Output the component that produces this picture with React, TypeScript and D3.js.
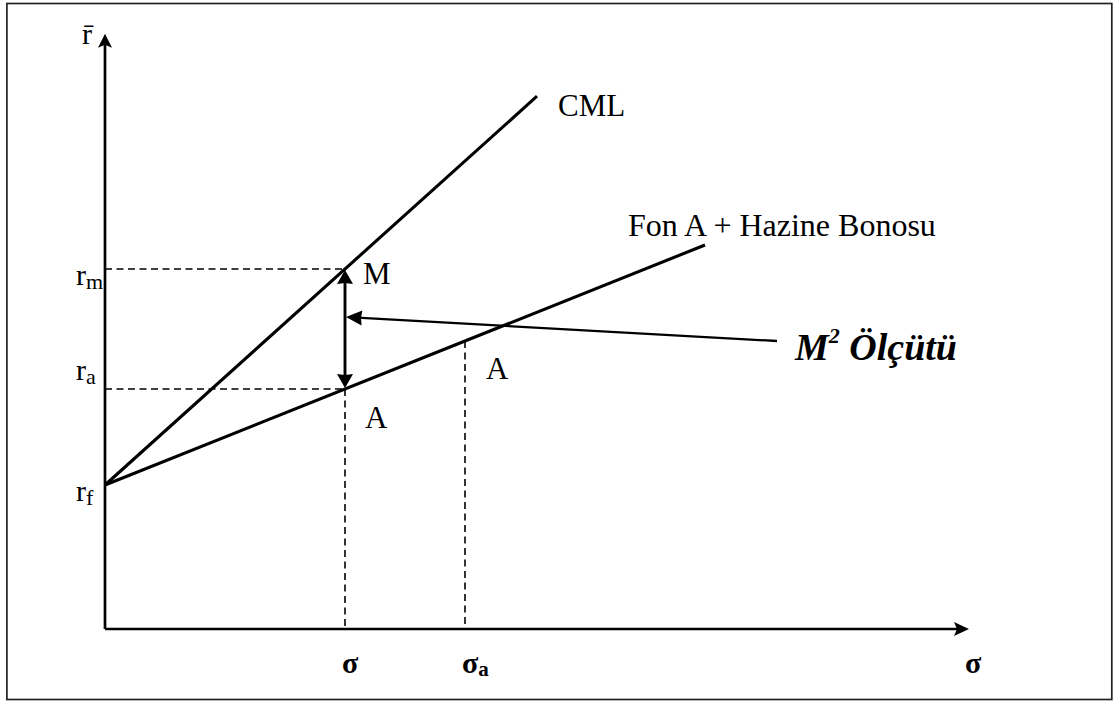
import React from "react";
import * as d3 from "d3";

// ---- data (model units) ----
const rf = 6;
const rA = 10;
const rM = 15;
const sigmaM = 4;
const sigmaA = 6;
const cmlLine = [ { s: 0, r: 6 }, { s: 7.2, r: 22.2 } ];
const fundLine = [ { s: 0, r: 6 }, { s: 10, r: 16 } ];
const m2Arrow = [ { s: 11.2, r: 12 }, { s: 4, r: 13 } ];
const axisMaxSigma = 14.4;
const axisMaxR = 24.8;
const lineLabels = ["CML", "Fon A + Hazine Bonosu"];
const pointLabels = ["M", "A", "A"];
const yTickLabels = [ { base: "r", sub: "m", v: rM }, { base: "r", sub: "a", v: rA }, { base: "r", sub: "f", v: rf } ];
const xTickLabels = [ { base: "σ", sub: "", v: sigmaM }, { base: "σ", sub: "a", v: sigmaA } ];

const W = 1115;
const H = 702;
const x = d3.scaleLinear().domain([0, 4]).range([105, 345]);
const y = d3.scaleLinear().domain([0, 15]).range([629, 269]);

function arrowHead(tx: number, ty: number, fx: number, fy: number, len: number, hw: number, notch = 3) {
  const dx = tx - fx, dy = ty - fy;
  const L = Math.hypot(dx, dy);
  const ux = dx / L, uy = dy / L;
  const px = -uy, py = ux;
  const bx = tx - ux * len, by = ty - uy * len;
  const nx = tx - ux * (len - notch), ny = ty - uy * (len - notch);
  return `M${tx},${ty}L${bx + px * hw},${by + py * hw}L${nx},${ny}L${bx - px * hw},${by - py * hw}Z`;
}

export default function App() {
  const line = d3.line<{ s: number; r: number }>().x(d => x(d.s)).y(d => y(d.r));
  const font = "'Liberation Serif', 'Times New Roman', serif";
  const x0 = x(0), y0 = y(0);
  const xEnd = x(axisMaxSigma), yEnd = y(axisMaxR);
  const mx = x(sigmaM), my = y(rM), ay = y(rA);
  const sax = x(sigmaA), say = y(rf + (fundLine[1].r - rf) / fundLine[1].s * sigmaA);
  const m2s = m2Arrow[0], m2e = m2Arrow[1];
  const dash = "7 4.5";
  return (
    <svg width={W} height={H} style={{ position: "absolute", left: 0, top: 0, background: "#fff" }}>
      <rect x={6.9} y={3.5} width={1104.9} height={696} fill="#fff" stroke="#222" strokeWidth={1.7} />

      {/* dashed guides */}
      <g stroke="#000" strokeWidth={1.6} strokeDasharray={dash} fill="none">
        <line x1={x0} y1={my} x2={mx} y2={my} />
        <line x1={x0} y1={ay} x2={mx} y2={ay} />
        <line x1={mx} y1={ay} x2={mx} y2={y0} />
        <line x1={sax} y1={say} x2={sax} y2={y0} />
      </g>

      {/* axes */}
      <g stroke="#000" strokeWidth={2.7}>
        <line x1={x0} y1={y0} x2={x0} y2={yEnd + 8} />
        <line x1={x0} y1={y0} x2={xEnd - 8} y2={y0} />
      </g>
      <path d={arrowHead(x0, yEnd, x0, y0, 14, 7)} fill="#000" />
      <path d={arrowHead(xEnd, y0, x0, y0, 15, 7)} fill="#000" />

      {/* lines */}
      <path d={line(cmlLine) || ""} stroke="#000" strokeWidth={3.1} fill="none" />
      <path d={line(fundLine) || ""} stroke="#000" strokeWidth={3.1} fill="none" />

      {/* double arrow */}
      <line x1={mx} y1={my + 10} x2={mx} y2={ay - 10} stroke="#000" strokeWidth={2.9} />
      <path d={arrowHead(mx, my + 1, mx, ay, 14, 8, 1)} fill="#000" />
      <path d={arrowHead(mx, ay - 1, mx, my, 14, 8, 1)} fill="#000" />

      {/* M2 arrow */}
      <line x1={x(m2s.s)} y1={y(m2s.r)} x2={x(m2e.s) + 12} y2={y(m2e.r) + 0.7} stroke="#000" strokeWidth={2.3} />
      <path d={arrowHead(x(m2e.s) + 1, y(m2e.r), x(m2s.s), y(m2s.r), 16, 7.5, 1)} fill="#000" />

      {/* texts */}
      <g fontFamily={font} fill="#000">
        <text x={82} y={44} fontSize={30}>r̄</text>
        {yTickLabels.map((t, i) => (
          <text key={i} x={76} y={y(t.v) + (t.v === rA ? -9 : 16)} fontSize={30}>
            {t.base}
            <tspan fontSize={22} dy={4}>{t.sub}</tspan>
          </text>
        ))}
        {xTickLabels.map((t, i) => (
          <text key={i} x={x(t.v) - 3} y={673} fontSize={30} fontWeight="bold">
            {t.base}
            {t.sub ? <tspan fontSize={21} dy={3}>{t.sub}</tspan> : null}
          </text>
        ))}
        <text x={965} y={673} fontSize={30} fontWeight="bold">σ</text>
        <text x={x(cmlLine[1].s) + 21} y={116} fontSize={31}>{lineLabels[0]}</text>
        <text x={628} y={236} fontSize={32}>{lineLabels[1]}</text>
        <text x={mx + 18} y={my + 15} fontSize={31}>{pointLabels[0]}</text>
        <text x={mx + 20} y={ay + 39} fontSize={31}>{pointLabels[1]}</text>
        <text x={sax + 21} y={say + 38} fontSize={31}>{pointLabels[2]}</text>
        <text x={795} y={360} fontSize={38} fontWeight="bold" fontStyle="italic">
          M<tspan fontSize={22} dy={-17}>2</tspan>
          <tspan dy={17}> Ölçütü</tspan>
        </text>
      </g>
    </svg>
  );
}
